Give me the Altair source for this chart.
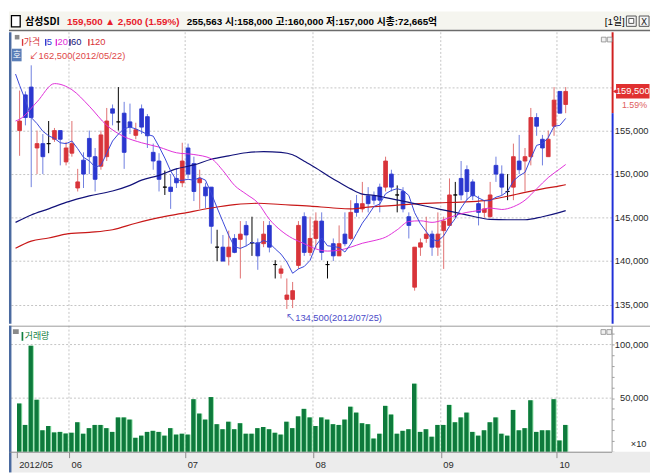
import altair as alt
import pandas as pd

# ---------------- data ----------------
opens = [155000,159100,160000,153000,153500,153500,154000,155000,151400,152400,
         148400,151600,154100,152000,150900,152000,157500,156000,157000,156000,
         154450,157500,156600,152500,151500,148500,148500,149500,149000,153000,
         151200,149000,148500,148500,141600,141600,140500,142600,142500,144100,
         142100,142100,142000,144100,139600,138600,135600,135600,139500,145100,
         141000,142600,144600,139600,142000,140600,143100,142600,146600,146000,
         147500,147500,148500,148500,150000,147600,148000,145100,137000,141600,
         142600,143100,141600,143500,144100,147600,149500,150500,149100,146600,
         145600,145100,151000,150000,148000,148500,151500,151500,152000,156500,
         154000,152000,155500,159500,158000]
highs = [159600,159500,162500,155000,154600,156100,155300,155000,153700,156100,
         150600,152500,155000,153000,155000,157600,158000,160000,158300,158100,
         155900,158000,156900,153500,152400,150400,150000,150700,153600,153500,
         152000,150500,149000,148500,143600,143000,143500,143100,144600,144600,
         145100,142600,144600,144600,140100,139500,138000,137600,144600,145600,
         145100,145600,145600,140000,142600,144100,145600,147000,147600,149100,
         148500,148000,148900,152000,150500,148700,148500,145600,141600,142600,
         145100,143500,145600,145100,149500,149100,151500,151000,149400,147500,
         147000,149100,152000,151000,150000,153500,154500,153000,157600,157000,
         154500,155000,160000,159500,160000]
lows = [152100,155600,148500,150000,150000,152400,153700,151000,151000,152000,
        148000,148400,150000,148000,150500,151500,155600,155000,150600,154600,
        154000,154600,153000,150500,148000,147600,146000,148400,148500,149500,
        146900,146000,146100,142000,140000,140000,139500,140900,138000,141700,
        140600,139000,141600,141000,138000,138000,134500,134600,139100,140600,
        140600,141500,140100,138000,140000,140600,141700,142400,145100,145600,
        145600,146500,145600,148000,148000,145600,145600,142600,136600,140600,
        142100,140600,140600,139100,144100,145000,147000,147000,147000,144100,
        145000,145000,149100,147600,147000,147000,150000,148000,151000,154400,
        151000,152000,154400,157000,157000]
closes = [156100,156500,156500,153500,152000,153500,155000,154000,153000,153500,
          149100,150000,152000,149400,154500,156100,157000,156000,152500,155400,
          155100,155400,154400,151500,149400,148500,148000,149000,151500,150000,
          148000,149500,147500,144000,141600,140000,141600,141000,143100,143000,
          142100,140600,143100,141600,139600,139100,136100,136600,144100,141000,
          142600,144600,141000,139600,140600,142000,142000,145600,145600,146600,
          146600,147000,147000,151500,148500,147600,146000,144100,141600,142100,
          143100,141600,143100,144600,147600,147600,147600,148000,147500,145600,
          146000,147600,150000,148500,148000,152000,150500,152000,156500,155500,
          153000,154000,158500,157000,159500]
volumes = [45000,25000,99000,48500,20000,24000,18000,18500,17000,17700,
           27500,16800,22000,25000,25000,22000,18500,32000,32000,30000,
           13000,15000,18500,19500,18500,15000,22000,16000,16800,16000,
           49000,35600,30000,51000,25700,21000,28000,21000,26600,16800,
           16800,22000,23000,21000,17700,16000,28000,22000,33000,40000,
           32000,24000,32000,30000,25700,25000,30000,42000,36500,26600,
           25700,12300,16800,42800,34700,16800,19500,21000,63500,18500,
           21000,14000,25000,25000,43700,27500,32000,36500,18500,15000,
           20000,27500,32000,16800,15000,39000,20000,22000,48000,18500,
           20000,20000,49000,10500,25000]

month_first_bar = [0, 9, 29, 51, 73, 93]
month_labels = ["2012/05", "06", "07", "08", "09", "10"]

ma5_head_idx = [-0.7, 0, 1, 2, 3]
ma5_head_val = [161500, 160200, 158500, 156500, 155800]
ma20_idx = [-0.7, 0, 3, 6, 9, 12, 15, 18, 21, 24, 27, 30, 33, 35, 37, 39, 41, 43, 45, 47, 49, 51,
            53, 55, 57, 59, 61, 63, 65, 67, 69, 71, 73, 75, 77, 79, 81, 83, 85, 87, 89, 91, 93, 94]
ma20_val = [156100, 156300, 158300, 160400, 159700, 157800, 155600, 154300, 153600, 153100, 152450,
            152250, 151760, 150400, 148700, 147700, 146700, 144800, 143500, 142600, 142000, 141400,
            141150, 141250, 141600, 142050, 142350, 142750, 143600, 144550, 144630, 144450, 144750,
            145250, 145600, 145800, 146100, 145930, 146250, 147000, 148300, 149600, 150600, 151100]
ma60_idx = [-0.7, 2, 5, 8, 12, 16, 19, 21, 24, 27, 30, 33, 36, 39, 42, 45, 47, 49, 51, 53, 55, 57,
            59, 61, 63, 66, 69, 72, 75, 78, 81, 84, 87, 90, 93, 94]
ma60_val = [144450, 145300, 146000, 146750, 147500, 148050, 148700, 149300, 149850, 150600, 151050,
            151700, 152100, 152450, 152580, 152500, 152220, 151470, 150700, 149850, 149050, 148300,
            147700, 147550, 147300, 146900, 146450, 146000, 145600, 145150, 144800, 144750, 144750,
            145100, 145600, 145800]
ma120_idx = [-0.7, 2, 5, 8, 12, 16, 20, 24, 28, 33, 37, 41, 45, 50, 54, 57, 60, 64, 68, 72, 76, 80,
             84, 87, 90, 93, 94]
ma120_val = [141480, 142300, 142650, 143100, 143300, 143600, 144350, 145000, 145480, 146100, 146480,
             146650, 146500, 146320, 146100, 146000, 146200, 146380, 146570, 146700, 146780, 146950,
             147450, 147900, 148300, 148650, 148780]

price_grid = [135000, 140000, 145000, 150000, 155000, 160000]
price_labels = [135000, 140000, 145000, 150000, 155000]
vol_grid = [50000, 100000]
vol_ticks = list(range(0, 110001, 10000))
prev_close = 157000
change = 2500
pct_text = "1.59%"
today_volume = 255563
market_cap = "72,665억"
stock_name = "삼성SDI"
hi_date = "2012/05/22"
lo_date = "2012/07/25"

# ---------------- layout ----------------
W = 612
FULLW = 651
LAB_R = 649.5
H_HEAD, H_PRICE, H_VOL = 20, 296, 128
TXT = "Liberation Sans, Noto Sans CJK KR, sans-serif"
KR = "Noto Sans CJK KR, sans-serif"
RED, BLUE = "#d8343a", "#2b37cf"
RED_W, BLUE_W = "#e07070", "#6f7fe0"
GRID = "#c4c4c4"
LABC = "#2a2a2a"

xs = alt.Scale(domain=[-0.98, 101.06], nice=False, zero=False)
ps = alt.Scale(domain=[132800, 166300], nice=False, zero=False)
vs = alt.Scale(domain=[0, 117600], nice=False, zero=False)

n = len(closes)
df = pd.DataFrame({"i": list(range(n)), "o": opens, "h": highs, "l": lows, "c": closes, "v": volumes})
df["dir"] = ["up" if c > o else ("down" if c < o else "flat") for o, c in zip(opens, closes)]
df["top"] = df[["o", "c"]].max(axis=1)
df["bot"] = df[["o", "c"]].min(axis=1)

ma5_body = pd.Series(closes).rolling(5).mean()
ma5 = pd.DataFrame({"i": ma5_head_idx + list(range(4, n)),
                    "m": ma5_head_val + list(ma5_body[4:])})
ma20 = pd.DataFrame({"i": ma20_idx, "m": ma20_val})
ma60 = pd.DataFrame({"i": ma60_idx, "m": ma60_val})
ma120 = pd.DataFrame({"i": ma120_idx, "m": ma120_val})

ONE = alt.Data(values=[{"k": 0}])

AXP = alt.Axis(orient="right", values=price_grid, labels=False,
               grid=True, gridColor=GRID, gridDash=[2, 2], gridWidth=1,
               domain=False, ticks=False, title=None)
AXV = alt.Axis(orient="right", values=vol_ticks, labels=False,
               grid=False, domain=True, domainColor="#9a9a9a", ticks=True, tickSize=2.5,
               tickColor="#a0a0a0", title=None)

bounds = [m - 0.5 for m in month_first_bar]
lab_expr = ""
for b, lab in zip(bounds[:-1], month_labels[:-1]):
    lab_expr += f"datum.value < {b + 1} ? '{lab}' : "
lab_expr += f"'{month_labels[-1]}'"
AXX = alt.Axis(orient="bottom", values=bounds, labelExpr=lab_expr, grid=False,
               domain=True, domainColor="#8c8c8c", ticks=True, tickSize=6, tickColor="#8c8c8c",
               labelAlign="left", labelBaseline="middle", labelPadding=7, labelOffset=2,
               labelFont=TXT, labelFontSize=9.5, labelColor=LABC, labelOverlap=False,
               labelFlush=False, zindex=1, title=None)

X = alt.X("i:Q", scale=xs, axis=None)


def PY(f):
    return alt.Y(f, scale=ps, axis=AXP)


def VY(f):
    return alt.Y(f, scale=vs, axis=AXV)


def T(text, x, y, color="#000", size=10, font=TXT, weight="normal", align="left"):
    return alt.Chart(ONE).mark_text(text=text, font=font, fontSize=size, fontWeight=weight,
                                    color=color, align=align, baseline="middle").encode(
        x=alt.value(x), y=alt.value(y))


def R(x, x2, y, y2, fill=None, stroke=None, sw=1):
    kw = {}
    if fill is not None:
        kw["fill"] = fill
    else:
        kw["fillOpacity"] = 0
    if stroke is not None:
        kw["stroke"] = stroke
        kw["strokeWidth"] = sw
    return alt.Chart(ONE).mark_rect(**kw).encode(
        x=alt.value(x), x2=alt.value(x2), y=alt.value(y), y2=alt.value(y2))


# ---------------- header ----------------
HR = "#e8202a"
red_part = f"{closes[-1]:,} ▲ {change:,} ({pct_text})"
black_part = (f"{today_volume:,} 시:{opens[-1]:,} 고:{highs[-1]:,} "
              f"저:{lows[-1]:,} 시총:{market_cap}")
header = alt.layer(
    R(0, FULLW, 0, 18.5, fill="#f5f5ef"),
    R(0, FULLW, 18.5, 20, fill="#6b6b6b"),
    R(2.5, 11.4, 4, 15.6, fill="white", stroke="#000", sw=1.3),
    T(stock_name, 16.5, 10.6, "#000", 10, KR, "bold"),
    T(red_part, 59.0, 10.6, HR, 10, TXT, "bold"),
    T(black_part, 180.5, 10.6, "#000", 10, TXT, "bold"),
    T("[1일]", 605.0, 10.6, "#000", 10, TXT, "normal"),
    R(627, 637, 4.5, 15, fill="#f4f4f4", stroke="#555", sw=1),
    R(629.5, 634.5, 7, 12, fill="#ffffff", stroke="#555", sw=1),
    R(640, 650, 4.5, 15, fill="#f4f4f4", stroke="#555", sw=1),
    T("X", 645, 10.3, "#222", 9, "DejaVu Sans", "normal", "center"),
).properties(width=FULLW, height=H_HEAD)

# ---------------- price panel ----------------
mdf = pd.DataFrame({"b": bounds[1:]})
grid_m_price = alt.Chart(mdf).mark_rule(color=GRID, strokeDash=[2, 2], strokeWidth=1).encode(
    x=alt.X("b:Q", scale=xs, axis=None))

dscale_w = alt.Scale(domain=["up", "down", "flat"], range=[RED_W, BLUE_W, "#000000"])
dscale_b = alt.Scale(domain=["up", "down", "flat"], range=[RED, BLUE, "#000000"])
wick = alt.Chart(df).mark_rule(strokeWidth=1).encode(
    x=X, y=PY("l:Q"), y2="h:Q", color=alt.Color("dir:N", scale=dscale_w, legend=None))
body = alt.Chart(df).mark_bar(width=3.8, strokeWidth=0.9).encode(
    x=X, y=PY("bot:Q"), y2="top:Q",
    fill=alt.Fill("dir:N", scale=dscale_b, legend=None),
    stroke=alt.Stroke("dir:N", scale=dscale_b, legend=None))


def ma_line(d, color, w, interp="linear"):
    return alt.Chart(d).mark_line(color=color, strokeWidth=w, interpolate=interp).encode(
        x=X, y=PY("m:Q"))


l120 = ma_line(ma120, "#c81818", 1.2, "monotone")
l60 = ma_line(ma60, "#12127a", 1.2, "monotone")
l20 = ma_line(ma20, "#e030d8", 1.0, "monotone")
l5 = ma_line(ma5, "#3a48d8", 1.0)

hi_val = max(highs)
hi_idx = highs.index(hi_val)
lo_val = min(lows)
lo_idx = lows.index(lo_val)
ann = pd.DataFrame({"i": [hi_idx, lo_idx], "m": [hi_val, lo_val],
                    "t": [f"↙{hi_val:,}({hi_date})", f"↖{lo_val:,}({lo_date})"],
                    "k": ["hi", "lo"]})
hi_txt = alt.Chart(ann).transform_filter("datum.k == 'hi'").mark_text(
    align="left", baseline="middle", dx=-2, dy=-9, color="#e04848", font=TXT, fontSize=9.5).encode(
    x=X, y=PY("m:Q"), text="t:N")
lo_txt = alt.Chart(ann).transform_filter("datum.k == 'lo'").mark_text(
    align="left", baseline="middle", dx=-1, dy=9, color="#4a4ac8", font=TXT, fontSize=9.5).encode(
    x=X, y=PY("m:Q"), text="t:N")

axdf = pd.DataFrame({"top": [166300], "pc": [prev_close], "bot": [132800]})
ax_red = alt.Chart(axdf).mark_rule(color="#d02020", strokeWidth=2).encode(
    x=alt.value(W + 1), y=PY("top:Q"), y2="pc:Q")
ax_blue = alt.Chart(axdf).mark_rule(color="#2030d8", strokeWidth=2).encode(
    x=alt.value(W + 1), y=PY("pc:Q"), y2="bot:Q")

pl = pd.DataFrame({"m": price_labels, "t": [f"{v:,}" for v in price_labels]})
price_lab = alt.Chart(pl).mark_text(font=TXT, fontSize=9.5, color=LABC, align="right",
                                    baseline="middle").encode(
    x=alt.value(LAB_R), y=PY("m:Q"), text="t:N")

last = closes[-1]
ldf = pd.DataFrame({"m": [last], "top": [last + 850], "bot": [last - 800],
                    "t": [f"{last:,}"], "pct": [pct_text]})
BOX_L = W + 4.5
box = alt.Chart(ldf).mark_rect(color="#e03030").encode(
    x=alt.value(BOX_L), x2=alt.value(FULLW - 0.5), y=PY("top:Q"), y2="bot:Q")
tri = alt.Chart(ldf).mark_point(shape="triangle-left", filled=True, size=30, color="#e03030",
                                opacity=1).encode(x=alt.value(W + 3.5), y=PY("m:Q"))
box_txt = alt.Chart(ldf).mark_text(color="white", font=TXT, fontSize=9.5, align="center",
                                   baseline="middle").encode(
    x=alt.value((BOX_L + FULLW - 0.5) / 2), y=PY("m:Q"), text="t:N")
pct_txt = alt.Chart(ldf).mark_text(color="#e06060", font=TXT, fontSize=9, align="right",
                                   baseline="middle", dy=14).encode(
    x=alt.value(LAB_R - 1.5), y=PY("m:Q"), text="pct:N")

price_layers = [
    grid_m_price, wick, body, l120, l60, l20, l5, hi_txt, lo_txt,
    ax_red, ax_blue, price_lab, box, tri, box_txt, pct_txt,
    R(0, 2.5, 0, H_PRICE, fill="#4a6aa0"),
    # legend row
    R(5.9, 10.6, 2.7, 7.3, fill="#8a8a8a"),
    R(13.1, 14.5, 6.9, 13.8, fill=RED), T("가격", 15, 10, RED, 9, KR),
    R(36.6, 38.0, 6.9, 13.8, fill=BLUE), T("5", 38.4, 10, BLUE, 9.5),
    R(47.4, 48.8, 6.9, 13.8, fill="#e030d8"), T("20", 49.2, 10, "#e030d8", 9.5),
    R(61.2, 62.6, 6.9, 13.8, fill="#12127a"), T("60", 63.0, 10, "#12127a", 9.5),
    R(80.4, 81.8, 6.9, 13.8, fill=RED), T("120", 82.2, 10, RED, 9.5),
    R(3, 12.8, 16.7, 29.5, fill="#5b7fb8"), T("호", 7.9, 23.1, "white", 9, KR, "normal", "center"),
    R(601.6, 606.4, 5, 9.8, fill="#f0f0f0", stroke="#888", sw=0.8),
    R(607.6, 612.4, 5, 9.8, fill="#f0f0f0", stroke="#888", sw=0.8),
]
price = alt.layer(*price_layers).properties(width=W, height=H_PRICE)

# ---------------- volume panel ----------------
grid_m_vol = alt.Chart(mdf).mark_rule(color=GRID, strokeDash=[2, 2], strokeWidth=1).encode(
    x=alt.X("b:Q", scale=xs, axis=AXX))
vgdf = pd.DataFrame({"g": vol_grid, "t": [f"{v:,}" for v in vol_grid]})
vgrid = alt.Chart(vgdf).mark_rule(color=GRID, strokeDash=[2, 2], strokeWidth=1).encode(y=VY("g:Q"))
vol_lab = alt.Chart(vgdf).mark_text(font=TXT, fontSize=9.5, color=LABC, align="right",
                                    baseline="middle").encode(
    x=alt.value(LAB_R), y=VY("g:Q"), text="t:N")
vol_light = alt.Chart(df).mark_bar(width=5.3, color="#8fe3a8").encode(
    x=alt.X("i:Q", scale=xs, axis=AXX), y=VY("v:Q"))
vol_dark = alt.Chart(df).mark_bar(width=4.3, xOffset=-0.5, color="#0e7a3c").encode(
    x=alt.X("i:Q", scale=xs, axis=AXX), y=VY("v:Q"))

vol_layers = [
    R(0, FULLW, H_VOL, H_VOL + 21, fill="#ececec"),
    grid_m_vol, vgrid, vol_light, vol_dark, vol_lab,
    alt.Chart(ONE).mark_rule(color="#9a9a9a", strokeWidth=1).encode(
        x=alt.value(0), x2=alt.value(FULLW), y=alt.value(0.5)),
    R(0, 2.5, 0, H_VOL + 21, fill="#4a6aa0"),
    R(4, 9.9, 3.5, 8.4, fill="#8a8a8a"),
    R(12.8, 14.5, 6.4, 15.3, fill="#108040"),
    T("거래량", 16, 10.6, "#108040", 9, KR),
    R(601.2, 606.0, 4, 8.8, fill="#f0f0f0", stroke="#888", sw=0.8),
    R(607.2, 612.0, 4, 8.8, fill="#f0f0f0", stroke="#888", sw=0.8),
    T("×10", LAB_R - 2, 120.2, LABC, 9.5, TXT, "normal", "right"),
]
volume = alt.layer(*vol_layers).properties(width=W, height=H_VOL)

chart = alt.vconcat(header, price, volume, spacing=0).properties(
    padding=0, background="white").configure_view(stroke=None)

chart.save("out.html", embed_options={"renderer": "svg", "actions": False})
